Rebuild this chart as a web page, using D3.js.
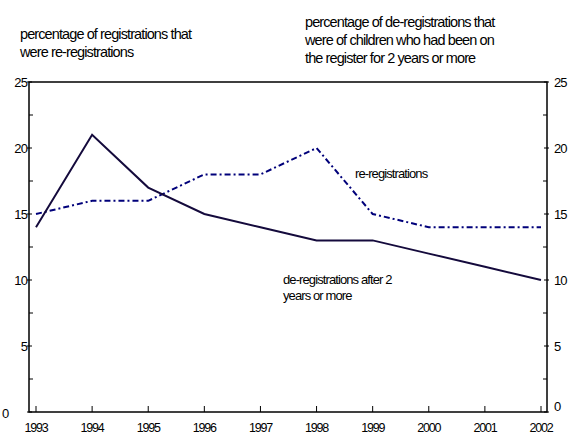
<!DOCTYPE html>
<html>
<head>
<meta charset="utf-8">
<script src="https://cdn.jsdelivr.net/npm/d3@7"></script>
<style>
  body { margin: 0; background: #fff; }
  svg text { font-family: "Liberation Sans", Arial, sans-serif; font-size: 13px; letter-spacing: -0.9px; fill: #000; }
  svg text.title { font-size: 14.5px; letter-spacing: -0.9px; }
</style>
</head>
<body>
<div id="chart"></div>
<script>
var width = 570,
  height = 434;

var years = [1993, 1994, 1995, 1996, 1997, 1998, 1999, 2000, 2001, 2002];
var deregistrations = [14, 21, 17, 15, 14, 13, 13, 12, 11, 10];
var reregistrations = [15, 16, 16, 18, 18, 20, 15, 14, 14, 14];
var yTicks = [0, 5, 10, 15, 20, 25];
var yMinor = [2.5, 7.5, 12.5, 17.5, 22.5];

var plotLeft = 29, plotRight = 547, plotTop = 82, plotBottom = 412;

var x = d3.scaleLinear()
  .domain([1993, 2002])
  .range([36, 541]);

var y = d3.scaleLinear()
  .domain([0, 25])
  .range([plotBottom, plotTop]);

var svg = d3.select("#chart").append("svg")
  .attr("width", width)
  .attr("height", height);

// titles
var t1 = svg.append("text").attr("class", "title").attr("y", 39);
t1.append("tspan").attr("x", 20).attr("dy", 0).text("percentage of registrations that");
t1.append("tspan").attr("x", 20).attr("dy", 18).text("were re-registrations");

var t2 = svg.append("text").attr("class", "title").attr("y", 27);
t2.append("tspan").attr("x", 305).attr("dy", 0).text("percentage of de-registrations that");
t2.append("tspan").attr("x", 305).attr("dy", 18).text("were of children who had been on");
t2.append("tspan").attr("x", 305).attr("dy", 18).text("the register for 2 years or more");

// frame
svg.append("rect")
  .attr("x", plotLeft)
  .attr("y", plotTop)
  .attr("width", plotRight - plotLeft)
  .attr("height", plotBottom - plotTop)
  .attr("fill", "none")
  .attr("stroke", "#000")
  .attr("stroke-width", 1.5);

// y ticks, both sides
svg.selectAll(".ytl").data(yTicks).enter().append("line")
  .attr("x1", plotLeft - 2).attr("x2", plotLeft + 3)
  .attr("y1", function (d) { return y(d); })
  .attr("y2", function (d) { return y(d); })
  .attr("stroke", "#000");
svg.selectAll(".ytlm").data(yMinor).enter().append("line")
  .attr("x1", plotLeft).attr("x2", plotLeft + 4)
  .attr("y1", function (d) { return y(d); })
  .attr("y2", function (d) { return y(d); })
  .attr("stroke", "#000");
svg.selectAll(".ytr").data(yTicks).enter().append("line")
  .attr("x1", plotRight - 3).attr("x2", plotRight + 2)
  .attr("y1", function (d) { return y(d); })
  .attr("y2", function (d) { return y(d); })
  .attr("stroke", "#000");
svg.selectAll(".ytrm").data(yMinor).enter().append("line")
  .attr("x1", plotRight - 4).attr("x2", plotRight)
  .attr("y1", function (d) { return y(d); })
  .attr("y2", function (d) { return y(d); })
  .attr("stroke", "#000");

svg.selectAll(".yll").data(yTicks.filter(function (d) { return d > 0; })).enter().append("text")
  .attr("x", plotLeft - 2)
  .attr("y", function (d) { return y(d) + 5; })
  .attr("text-anchor", "end")
  .text(function (d) { return d; });
svg.selectAll(".ylr").data(yTicks.filter(function (d) { return d > 0; })).enter().append("text")
  .attr("x", plotRight + 7)
  .attr("y", function (d) { return y(d) + 5; })
  .text(function (d) { return d; });
svg.append("text").attr("x", 2).attr("y", y(0) + 6).text("0");
svg.append("text").attr("x", plotRight + 7).attr("y", y(0) - 1).text("0");

// x ticks
svg.selectAll(".xt").data(years).enter().append("line")
  .attr("x1", function (d) { return x(d); })
  .attr("x2", function (d) { return x(d); })
  .attr("y1", plotBottom)
  .attr("y2", plotBottom - 6)
  .attr("stroke", "#000");

svg.selectAll(".xl").data(years).enter().append("text")
  .attr("x", function (d) { return x(d); })
  .attr("y", 432)
  .attr("text-anchor", "middle")
  .style("font-size", "12.5px")
  .style("letter-spacing", "-1.2px")
  .text(function (d) { return d; });

// lines
var line = function (vals) {
  return d3.line()
    .x(function (d, i) { return x(years[i]); })
    .y(function (d) { return y(d); })(vals);
};

svg.append("path")
  .attr("d", line(reregistrations))
  .attr("fill", "none")
  .attr("stroke", "#00007a")
  .attr("stroke-width", 2)
  .attr("stroke-dasharray", "6,3,2,3");

svg.append("path")
  .attr("d", line(deregistrations))
  .attr("fill", "none")
  .attr("stroke", "#140a3c")
  .attr("stroke-width", 2);

// series labels
svg.append("text").attr("x", 355).attr("y", 178).text("re-registrations");
var t3 = svg.append("text").attr("y", 284);
t3.append("tspan").attr("x", 283).attr("dy", 0).text("de-registrations  after 2");
t3.append("tspan").attr("x", 283).attr("dy", 16).text("years or more");
</script>
</body>
</html>
